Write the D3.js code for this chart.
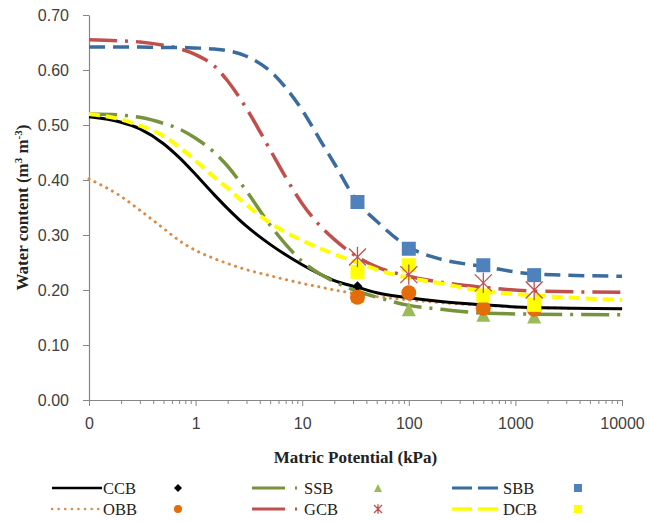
<!DOCTYPE html>
<html>
<head>
<meta charset="utf-8">
<script src="https://cdn.jsdelivr.net/npm/d3@7"></script>
<style>
  body { margin: 0; background: #fff; }
  svg { display: block; }
</style>
</head>
<body>
<div id="chart"></div>
<script>
// matric potential (kPa) where the fitted curves are read
var pot = [0.1, 0.2, 0.3, 0.5, 0.7, 1, 1.5, 2, 3, 5, 7, 10, 15, 20, 33, 50, 100, 200, 500, 1500, 10000];

// fitted curves, water content (m3 m-3)
var ccbCurve = [0.515, 0.505, 0.493, 0.466, 0.441, 0.41, 0.373, 0.348, 0.316, 0.283, 0.264, 0.246, 0.228, 0.217, 0.205, 0.195, 0.186, 0.179, 0.173, 0.168, 0.166];
var obbCurve = [0.402, 0.37, 0.345, 0.312, 0.29, 0.272, 0.257, 0.248, 0.237, 0.226, 0.219, 0.212, 0.205, 0.2, 0.193, 0.188, 0.182, 0.177, 0.172, 0.168, 0.166];
var ssbCurve = [0.52, 0.518, 0.514, 0.503, 0.493, 0.476, 0.45, 0.425, 0.38, 0.318, 0.283, 0.252, 0.228, 0.215, 0.198, 0.187, 0.172, 0.165, 0.158, 0.156, 0.155];
var gcbCurve = [0.655, 0.653, 0.651, 0.645, 0.639, 0.628, 0.607, 0.58, 0.53, 0.455, 0.405, 0.357, 0.315, 0.292, 0.26, 0.242, 0.225, 0.214, 0.205, 0.198, 0.196];
var sbbCurve = [0.642, 0.642, 0.642, 0.641, 0.641, 0.64, 0.638, 0.635, 0.625, 0.598, 0.568, 0.527, 0.47, 0.43, 0.36, 0.325, 0.278, 0.256, 0.243, 0.229, 0.225];
var dcbCurve = [0.52, 0.51, 0.499, 0.48, 0.46, 0.435, 0.405, 0.385, 0.355, 0.322, 0.305, 0.29, 0.275, 0.265, 0.25, 0.237, 0.222, 0.212, 0.198, 0.19, 0.182];

// measured points
var mPot = [33, 100, 500, 1500];
var ccbPts = [0.207, 0.19, 0.172, 0.17];
var obbPts = [0.187, 0.195, 0.167, 0.165];
var ssbPts = [0.19, 0.165, 0.155, 0.152];
var gcbPts = [0.26, 0.228, 0.213, 0.20];
var sbbPts = [0.36, 0.275, 0.245, 0.227];
var dcbPts = [0.233, 0.245, 0.19, 0.173];

var xTicks = [0.1, 1, 10, 100, 1000, 10000];
var yTicks = [0, 0.1, 0.2, 0.3, 0.4, 0.5, 0.6, 0.7];

var width = 649, height = 522;
var plotLeft = 89, plotRight = 622, plotTop = 15, plotBottom = 400;

var svg = d3.select("#chart").append("svg")
    .attr("width", width)
    .attr("height", height);

var x = d3.scaleLog().domain([0.1, 10000]).range([plotLeft, plotRight]);
var y = d3.scaleLinear().domain([0, 0.7]).range([plotBottom, plotTop]);

var axisColor = "#868686";
var labelFont = "'Liberation Sans', Arial, sans-serif";
var serif = "'Liberation Serif', 'Times New Roman', serif";

//minor ticks on the log axis
var minor = [];
xTicks.slice(0, -1).forEach(function (d) {
    for (var i = 2; i <= 9; i++) minor.push(d * i);
});

svg.append("g")
    .attr("transform", "translate(0," + plotBottom + ")")
    .call(d3.axisBottom(x).tickValues(minor).tickSize(4).tickFormat(""))
    .call(function (g) { g.select(".domain").remove(); })
    .selectAll("line").attr("stroke", axisColor);

var xAxis = svg.append("g")
    .attr("transform", "translate(0," + plotBottom + ")")
    .call(d3.axisBottom(x).tickValues(xTicks).tickSize(6).tickSizeOuter(0)
        .tickFormat(function (d) { return d < 1 ? "0" : d3.format("d")(d); }));

var yAxis = svg.append("g")
    .attr("transform", "translate(" + plotLeft + ",0)")
    .call(d3.axisLeft(y).tickValues(yTicks).tickSize(6).tickSizeOuter(0)
        .tickFormat(d3.format(".2f")));

[xAxis, yAxis].forEach(function (g) {
    g.select(".domain").attr("stroke", axisColor).attr("stroke-width", 1.2);
    g.selectAll(".tick line").attr("stroke", axisColor);
    g.selectAll(".tick text")
        .attr("font-family", labelFont)
        .attr("font-size", "16px")
        .attr("fill", "#404040");
});
xAxis.selectAll(".tick text").attr("dy", "1.25em");
yAxis.selectAll(".tick text").attr("dx", "-11px");

//axis titles
svg.append("text")
    .attr("x", (plotLeft + plotRight) / 2)
    .attr("y", 463)
    .attr("text-anchor", "middle")
    .attr("font-family", serif)
    .attr("font-weight", "bold")
    .attr("font-size", "17px")
    .attr("fill", "#222")
    .text("Matric Potential (kPa)");

var yTitle = svg.append("text")
    .attr("transform", "translate(28," + ((plotTop + plotBottom) / 2) + ") rotate(-90)")
    .attr("text-anchor", "middle")
    .attr("font-family", serif)
    .attr("font-weight", "bold")
    .attr("font-size", "17px")
    .attr("fill", "#222");
yTitle.append("tspan").text("Water content (m");
yTitle.append("tspan").attr("baseline-shift", "super").attr("font-size", "11px").text("3");
yTitle.append("tspan").text(" m");
yTitle.append("tspan").attr("baseline-shift", "super").attr("font-size", "11px").text("-3");
yTitle.append("tspan").text(")");

//series definitions
var series = [
    { name: "CCB", curve: ccbCurve, pts: ccbPts, color: "#000000", width: 3, dash: null, cap: "butt",
      marker: "diamond", mColor: "#000000" },
    { name: "SSB", curve: ssbCurve, pts: ssbPts, color: "#77933C", width: 3.5, dash: "28,8,3,8", cap: "butt",
      marker: "triangle", mColor: "#9BBB59" },
    { name: "SBB", curve: sbbCurve, pts: sbbPts, color: "#3B6C9E", width: 3.5, dash: "16,8", cap: "butt",
      marker: "square", mColor: "#4F81BD" },
    { name: "OBB", curve: obbCurve, pts: obbPts, color: "#DD8A45", width: 3, dash: "0.1,6.5", cap: "round",
      marker: "circle", mColor: "#E46C0A" },
    { name: "GCB", curve: gcbCurve, pts: gcbPts, color: "#C0504D", width: 3.5, dash: "28,8,3,8", cap: "butt",
      marker: "star", mColor: "#C0504D" },
    { name: "DCB", curve: dcbCurve, pts: dcbPts, color: "#FFFF00", width: 4, dash: "11,6", cap: "butt",
      marker: "ysquare", mColor: "#FFFF00" }
];

var line = d3.line()
    .x(function (d) { return x(d[0]); })
    .y(function (d) { return y(d[1]); })
    .curve(d3.curveMonotoneX);

function drawLine(g, d) {
    g.append("path")
        .datum(pot.map(function (p, i) { return [p, d.curve[i]]; }))
        .attr("d", line)
        .attr("fill", "none")
        .attr("stroke", d.color)
        .attr("stroke-width", d.width)
        .attr("stroke-linecap", d.cap)
        .attr("stroke-dasharray", d.dash);
}

//draw a marker at cx, cy with size s
function drawMarker(g, type, color, cx, cy, s) {
    if (type === "diamond") {
        g.append("path")
            .attr("d", "M" + cx + "," + (cy - s / 2) + "L" + (cx + s / 2) + "," + cy +
                "L" + cx + "," + (cy + s / 2) + "L" + (cx - s / 2) + "," + cy + "Z")
            .attr("fill", color);
    } else if (type === "triangle") {
        g.append("path")
            .attr("d", "M" + cx + "," + (cy - s / 2) + "L" + (cx + s / 2) + "," + (cy + s / 2) +
                "L" + (cx - s / 2) + "," + (cy + s / 2) + "Z")
            .attr("fill", color);
    } else if (type === "square" || type === "ysquare") {
        g.append("rect")
            .attr("x", cx - s / 2).attr("y", cy - s / 2)
            .attr("width", s).attr("height", s)
            .attr("fill", color);
    } else if (type === "circle") {
        g.append("circle")
            .attr("cx", cx).attr("cy", cy).attr("r", s / 2)
            .attr("fill", color);
    } else if (type === "star") {
        var h = s / 2;
        g.append("path")
            .attr("d", "M" + (cx - h) + "," + (cy - h) + "L" + (cx + h) + "," + (cy + h) +
                "M" + (cx + h) + "," + (cy - h) + "L" + (cx - h) + "," + (cy + h) +
                "M" + cx + "," + (cy - h * 1.2) + "L" + cx + "," + (cy + h * 1.2))
            .attr("stroke", color)
            .attr("stroke-width", 1.3)
            .attr("fill", "none");
    }
}

//lines first
var plot = svg.append("g");
["OBB", "CCB", "SSB", "GCB", "DCB", "SBB"].forEach(function (n) {
    drawLine(plot, series.find(function (d) { return d.name === n; }));
});

//then the measured points
var markerSize = { diamond: 10, triangle: 14, square: 14, circle: 15, star: 17, ysquare: 14 };
["SSB", "CCB", "OBB", "DCB", "GCB", "SBB"].forEach(function (n) {
    var d = series.find(function (s) { return s.name === n; });
    mPot.forEach(function (p, i) {
        drawMarker(plot, d.marker, d.mColor, x(p), y(d.pts[i]), markerSize[d.marker]);
    });
});

//legend
var legend = svg.append("g");
var colX = [52, 252, 452];
var rowY = [488, 509];
series.forEach(function (d, i) {
    var col = i % 3, row = Math.floor(i / 3);
    var lx = colX[col], ly = rowY[row];
    var lineEnd = col === 1 ? 299 : lx + 50;
    legend.append("line")
        .attr("x1", lx).attr("x2", lineEnd)
        .attr("y1", ly).attr("y2", ly)
        .attr("stroke", d.color)
        .attr("stroke-width", d.width - 0.5)
        .attr("stroke-linecap", d.cap)
        .attr("stroke-dasharray", col === 1 ? "33,10,2,20" : (col === 2 ? "20,6" : d.dash));
    legend.append("text")
        .attr("x", col === 1 ? 304 : lx + 51)
        .attr("y", ly + 6)
        .attr("font-family", serif)
        .attr("font-size", "16.5px")
        .attr("fill", "#222")
        .text(d.name);
    drawMarker(legend, d.marker, d.mColor, lx + 126, ly, 8);
});
</script>
</body>
</html>
